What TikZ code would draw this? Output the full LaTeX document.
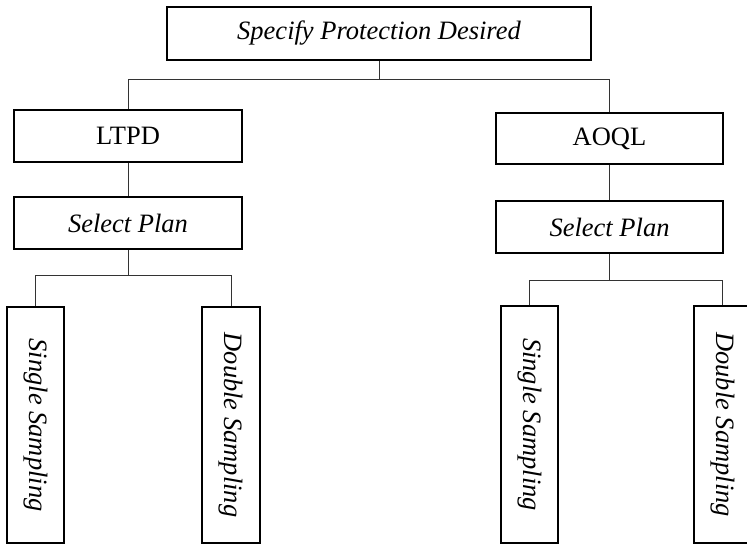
\documentclass[tikz,border=0pt]{standalone}
\usepackage{fontspec}
\setmainfont{Liberation Serif}
\begin{document}
\begin{tikzpicture}[x=1pt,y=-1pt,
  box/.style={draw=black,line width=1.5pt,rectangle,inner sep=0pt,
    font=\fontsize{26.5}{30}\selectfont},
  link/.style={draw=black!80,line width=1pt}]
\useasboundingbox (0,0) rectangle (747,544);
\begin{scope}
\clip (0,0) rectangle (747,544);
\node[box,minimum width=424pt,minimum height=53pt] (top) at (379,33.5) {\itshape Specify Protection Desired};
\node[box,minimum width=228pt,minimum height=52pt] (ltpd) at (128,136) {LTPD};
\node[box,minimum width=227pt,minimum height=51pt] (aoql) at (609.5,138.5) {AOQL};
\node[box,minimum width=228pt,minimum height=52pt] (spl) at (128,223) {\itshape Select Plan};
\node[box,minimum width=227pt,minimum height=52pt] (spr) at (609.5,227) {\itshape Select Plan};
\node[box,minimum width=57pt,minimum height=236pt] (ssl) at (35.5,425) {};
\node[rotate=-90,font=\fontsize{26.5}{30}\selectfont] at (ssl.center) {\itshape Single Sampling};
\node[box,minimum width=58pt,minimum height=236pt] (dsl) at (231,425) {};
\node[rotate=-90,font=\fontsize{26.5}{30}\selectfont] at (dsl.center) {\itshape Double Sampling};
\node[box,minimum width=57pt,minimum height=237pt] (ssr) at (529.5,424.5) {};
\node[rotate=-90,font=\fontsize{26.5}{30}\selectfont] at (ssr.center) {\itshape Single Sampling};
\node[box,minimum width=57pt,minimum height=237pt] (dsr) at (722.5,424.5) {};
\node[rotate=-90,font=\fontsize{26.5}{30}\selectfont] at (dsr.center) {\itshape Double Sampling};
\end{scope}
% connectors
\draw[link] (top.south) -- ++(0,19) coordinate (j1);
\draw[link] (ltpd.north) |- (j1) -| (aoql.north);
\draw[link] (ltpd.south) -- (spl.north);
\draw[link] (aoql.south) -- (spr.north);
\draw[link] (spl.south) -- ++(0,26) coordinate (j2);
\draw[link] (ssl.north) |- (j2) -| (dsl.north);
\draw[link] (spr.south) -- ++(0,27) coordinate (j3);
\draw[link] (ssr.north) |- (j3) -| (dsr.north);
\end{tikzpicture}
\end{document}
